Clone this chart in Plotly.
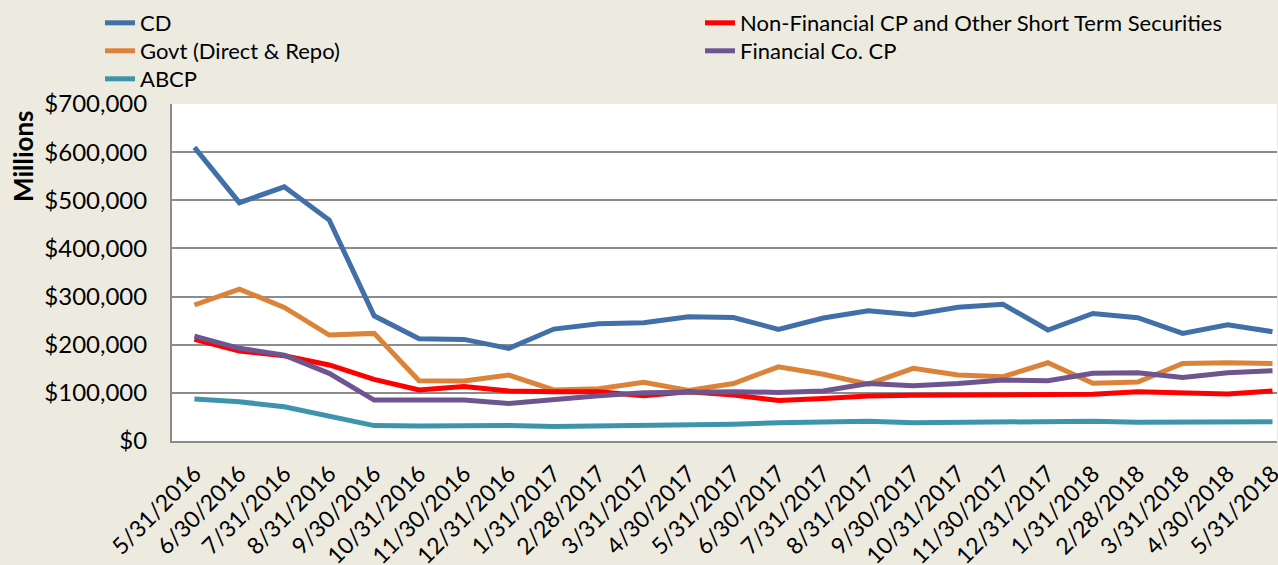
import plotly.graph_objects as go

dates = ["5/31/2016", "6/30/2016", "7/31/2016", "8/31/2016", "9/30/2016", "10/31/2016",
         "11/30/2016", "12/31/2016", "1/31/2017", "2/28/2017", "3/31/2017", "4/30/2017",
         "5/31/2017", "6/30/2017", "7/31/2017", "8/31/2017", "9/30/2017", "10/31/2017",
         "11/30/2017", "12/31/2017", "1/31/2018", "2/28/2018", "3/31/2018", "4/30/2018",
         "5/31/2018"]

cd = [610000, 495000, 528000, 459000, 260000, 212500, 211000, 192500, 232500, 243500,
      245500, 258000, 256500, 232000, 255500, 270500, 262500, 278000, 284000, 230500,
      265000, 256000, 223500, 241500, 227000]
govt = [282500, 315500, 277500, 220000, 223500, 125000, 124500, 137000, 106000, 108500,
        122000, 105000, 119500, 154000, 138500, 118000, 151000, 137000, 133500, 162500,
        120000, 122500, 161000, 162500, 161000]
non_fin = [211000, 187000, 177000, 158000, 128000, 106000, 113000, 104000, 102500, 102500,
           94000, 102500, 95500, 84000, 88500, 93500, 95000, 95500, 95500, 97500,
           97000, 102500, 99000, 97500, 104000]
fin_cp = [218000, 192500, 178500, 140500, 85000, 85000, 85000, 78000, 86500, 94000,
          100000, 102500, 102500, 101000, 104000, 119500, 115000, 119500, 126500, 125000,
          140500, 142000, 132000, 142000, 146000]
abcp = [87000, 81500, 71000, 50500, 32000, 31000, 32000, 32000, 30000, 31000,
        31000, 34000, 35000, 38000, 38500, 41000, 38000, 38500, 40000, 41000,
        41000, 39000, 39000, 37500, 40000]

# (name, values, colour, legend column, legend row)
series = [
    ("CD", cd, "#4170A8", 0, 0),
    ("Govt (Direct & Repo)", govt, "#DC833A", 0, 1),
    ("Non-Financial CP and Other Short Term Securities", non_fin, "#FF0000", 1, 0),
    ("Financial Co. CP", fin_cp, "#6E5590", 1, 1),
    ("ABCP", abcp, "#3D95AD", 0, 2),
]

FONT = "Lato"
W, H = 1278, 565
L, R, T, B = 172, 1, 104, 124
LEG_X = [100, 700]          # legend left edge per column (px)
LEG_ROW_CENTER = [23, 51, 79]  # row centres (px)

fig = go.Figure()
layout_legends = {}
for i, (name, vals, color, col, row) in enumerate(series):
    lid = "legend" if i == 0 else f"legend{i + 1}"
    fig.add_trace(go.Scatter(x=dates, y=vals, mode="lines", name=name, legend=lid,
                             line=dict(color=color, width=5)))
    layout_legends[lid] = dict(
        orientation="v", yref="container", xref="container", xanchor="left",
        yanchor="middle", bgcolor="rgba(0,0,0,0)",
        font=dict(family=FONT, size=22, color="#000000"),
        x=LEG_X[col] / W, y=1 - LEG_ROW_CENTER[row] / H)

fig.update_layout(
    width=W, height=H, autosize=False,
    paper_bgcolor="#EDEBE0", plot_bgcolor="#FFFFFF",
    margin=dict(l=L, r=R, t=T, b=B, autoexpand=False),
    font=dict(family=FONT, size=19, color="#000000"),
    showlegend=True,
    xaxis=dict(type="category", range=[-0.5, 24.1], tickangle=-45, showgrid=False,
               showline=True, linecolor="#8C8C8C", linewidth=2, ticks="",
               ticklabelstandoff=8,
               tickfont=dict(family=FONT, size=23), categoryorder="array", categoryarray=dates),
    yaxis=dict(range=[0, 700000], dtick=100000, tickformat="$,", showgrid=True,
               gridcolor="#8C8C8C", gridwidth=2, showline=True, linecolor="#8C8C8C",
               linewidth=2, ticks="", zeroline=False, tickfont=dict(family=FONT, size=24),
               ticklabelstandoff=18),
    **layout_legends,
)

pw = W - L - R
ph = H - T - B
fig.add_annotation(text="<b>Millions</b>", textangle=-90,
                   x=(23 - L) / pw, y=(441 - 156) / ph, xref="paper", yref="paper",
                   xanchor="center", yanchor="middle", showarrow=False,
                   font=dict(family=FONT, size=26, color="#000000"))

fig.write_html("out.html", config={"displayModeBar": False},
               post_script="document.body.style.margin='0';")
